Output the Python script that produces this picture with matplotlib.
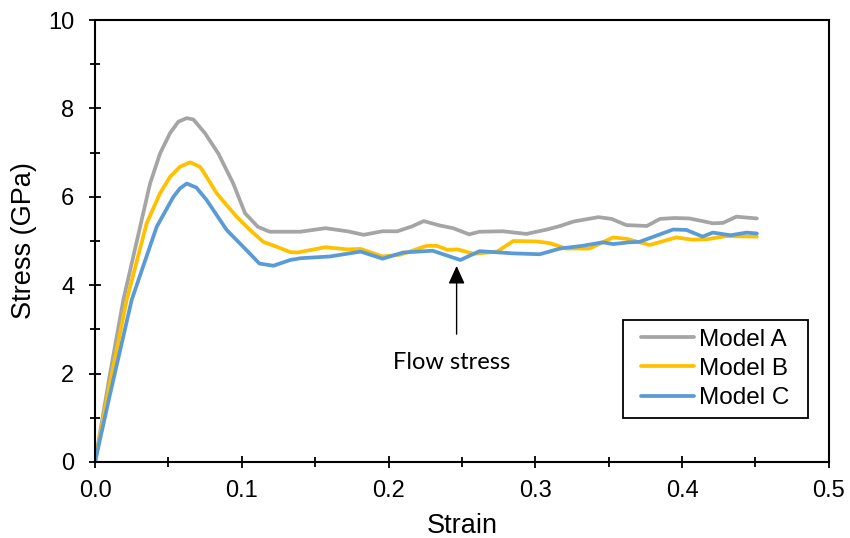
import matplotlib
matplotlib.use("Agg")
import matplotlib.pyplot as plt
from matplotlib.ticker import MultipleLocator, FormatStrFormatter
from matplotlib.patches import Rectangle

plt.rcParams["font.family"] = ["Liberation Sans", "DejaVu Sans"]

# Data
strain_a = [0.0, 0.01, 0.0193, 0.0375, 0.0443, 0.0511, 0.0568, 0.0625, 0.067, 0.0749, 0.084,
            0.0942, 0.1022, 0.111, 0.119, 0.126, 0.140, 0.157, 0.172, 0.183, 0.196, 0.206,
            0.216, 0.224, 0.235, 0.244, 0.255, 0.262, 0.278, 0.294, 0.308, 0.317, 0.326,
            0.343, 0.352, 0.362, 0.376, 0.385, 0.395, 0.405, 0.414, 0.421, 0.428, 0.437, 0.451]
stress_a = [0.0, 1.95, 3.67, 6.30, 6.98, 7.44, 7.70, 7.78, 7.75, 7.44, 6.98,
            6.30, 5.63, 5.32, 5.21, 5.21, 5.21, 5.29, 5.22, 5.14, 5.22, 5.22,
            5.33, 5.45, 5.35, 5.29, 5.15, 5.21, 5.22, 5.16, 5.26, 5.34, 5.44,
            5.54, 5.50, 5.36, 5.34, 5.50, 5.52, 5.51, 5.45, 5.40, 5.41, 5.55, 5.51]

strain_b = [0.0, 0.01, 0.0216, 0.0352, 0.0443, 0.0511, 0.0579, 0.0647, 0.0715, 0.0738, 0.0829,
            0.0897, 0.0965, 0.1056, 0.1147, 0.1238, 0.1328, 0.138, 0.157, 0.172, 0.181, 0.196,
            0.208, 0.226, 0.233, 0.240, 0.247, 0.258, 0.274, 0.285, 0.301, 0.310, 0.321,
            0.337, 0.353, 0.362, 0.378, 0.396, 0.407, 0.417, 0.430, 0.451]
stress_b = [0.0, 1.75, 3.67, 5.40, 6.08, 6.45, 6.68, 6.78, 6.68, 6.57, 6.08,
            5.81, 5.55, 5.25, 4.98, 4.87, 4.75, 4.74, 4.86, 4.81, 4.82, 4.65,
            4.69, 4.89, 4.89, 4.80, 4.81, 4.71, 4.76, 5.00, 4.99, 4.95, 4.83,
            4.83, 5.08, 5.05, 4.91, 5.08, 5.03, 5.04, 5.11, 5.10]

strain_c = [0.0, 0.01, 0.025, 0.042, 0.0534, 0.0579, 0.0625, 0.069, 0.076, 0.0897, 0.0965,
            0.103, 0.112, 0.1215, 0.133, 0.140, 0.160, 0.181, 0.196, 0.210, 0.230, 0.249,
            0.262, 0.285, 0.303, 0.317, 0.332, 0.346, 0.353, 0.364, 0.371, 0.394, 0.403,
            0.414, 0.421, 0.433, 0.444, 0.451]
stress_c = [0.0, 1.5, 3.67, 5.32, 6.00, 6.19, 6.30, 6.21, 5.93, 5.25, 5.02,
            4.80, 4.49, 4.44, 4.57, 4.61, 4.65, 4.76, 4.60, 4.74, 4.78, 4.57,
            4.77, 4.72, 4.70, 4.83, 4.89, 4.97, 4.93, 4.97, 4.98, 5.26, 5.25,
            5.10, 5.19, 5.13, 5.19, 5.17]

labels = ["Model A", "Model B", "Model C"]
colors = ["#A5A5A5", "#FFC000", "#5B9BD5"]

fig = plt.figure(figsize=(8.5, 5.38), dpi=100)
ax = fig.add_axes([0.1118, 0.1413, 0.8632, 0.8215])

for x, y, lab, col in zip([strain_a, strain_b, strain_c],
                          [stress_a, stress_b, stress_c], labels, colors):
    ax.plot(x, y, color=col, lw=2.7, label=lab, solid_capstyle="round", solid_joinstyle="round")

ax.set_xlim(0, 0.5)
ax.set_ylim(0, 10)
ax.xaxis.set_major_locator(MultipleLocator(0.1))
ax.xaxis.set_minor_locator(MultipleLocator(0.05))
ax.yaxis.set_major_locator(MultipleLocator(2))
ax.yaxis.set_minor_locator(MultipleLocator(1))
ax.xaxis.set_major_formatter(FormatStrFormatter("%.1f"))
ax.tick_params(which="both", direction="inout", length=8, width=1.3, labelsize=17)
ax.tick_params(which="minor", length=7)
ax.tick_params(axis="x", which="major", pad=9)
ax.tick_params(axis="y", which="major", pad=11)
for s in ax.spines.values():
    s.set_linewidth(1.5)

ax.set_xlabel("Strain", fontsize=19.5, labelpad=8)
ax.set_ylabel("Stress (GPa)", fontsize=19.5, labelpad=8)

# Flow stress annotation
ax.annotate("", xy=(0.2464, 4.5), xytext=(0.2464, 2.83),
            arrowprops=dict(arrowstyle="-|>,head_length=1.1,head_width=0.5", color="black", lw=1))
ax.text(0.243, 2.24, "Flow stress", ha="center", va="center", fontsize=17,
        family=["Lato", "DejaVu Sans"])

# legend frame drawn separately so its padding can match the reference
ax.add_patch(Rectangle((0.7193, 0.0995), 0.2521, 0.2218, transform=ax.transAxes,
                       facecolor="white", edgecolor="black", lw=1.3, zorder=4))
leg = ax.legend(loc="center", bbox_to_anchor=(0.845, 0.2104), fontsize=17.5, frameon=False,
                handlelength=2.2, handletextpad=0.2, labelspacing=0.3, borderpad=0.2)
leg.set_zorder(5)

fig.savefig("out.png", dpi=100)
